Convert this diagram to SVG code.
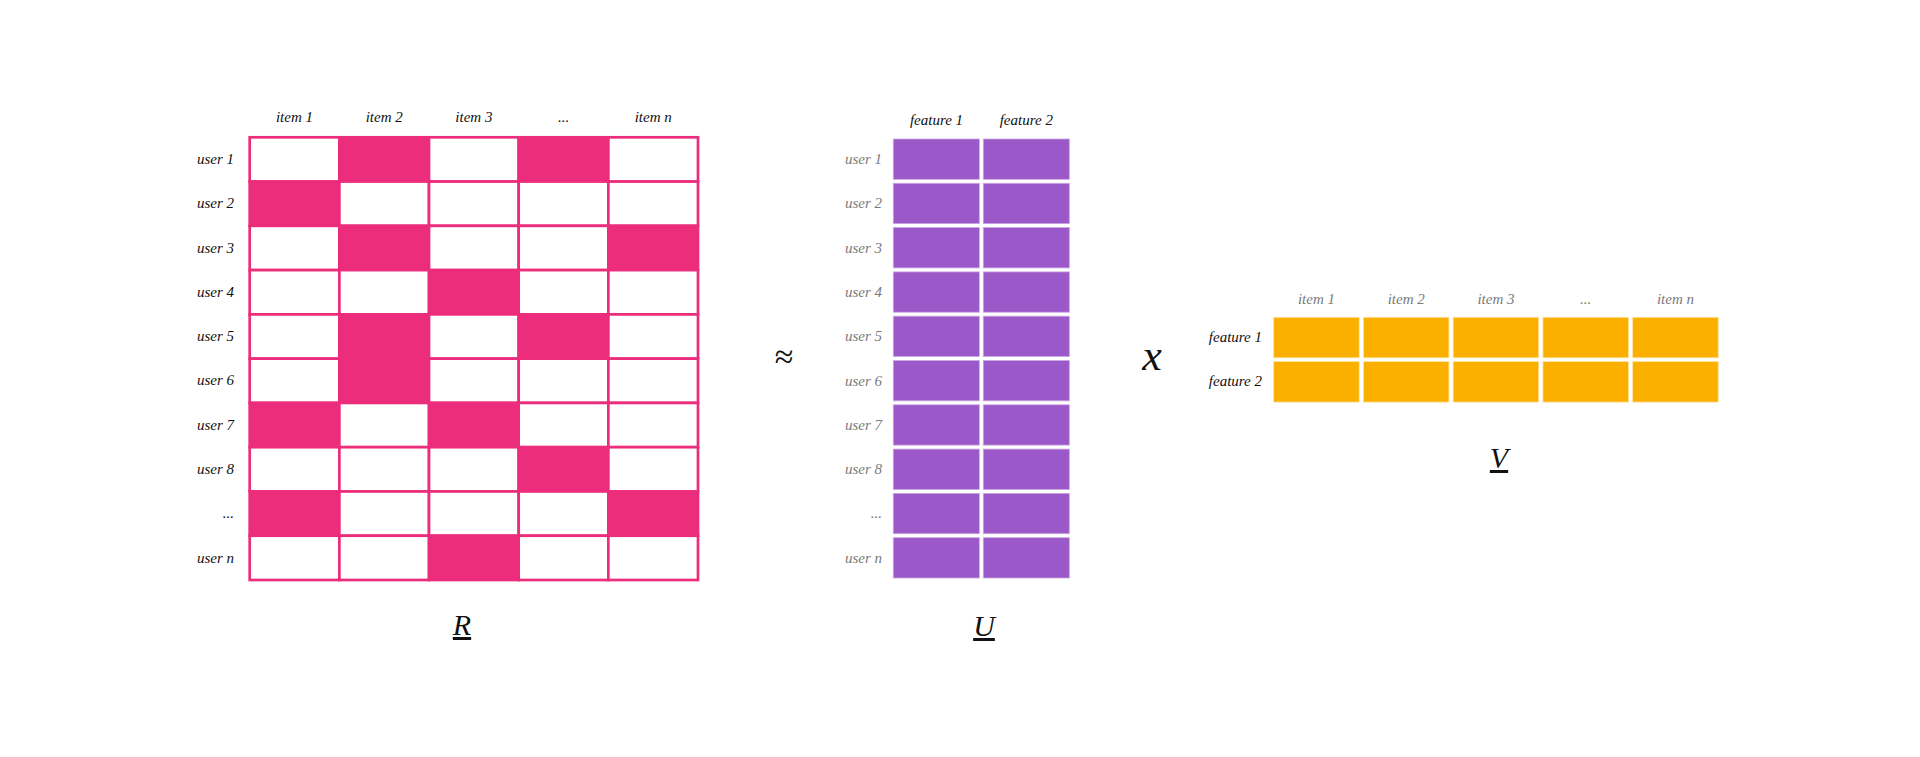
<svg xmlns="http://www.w3.org/2000/svg" width="1920" height="757" viewBox="0 0 1920 757">
<style>
text{font-family:"Liberation Serif","DejaVu Serif",serif;font-style:italic}
.lb{font-size:15px;fill:#111}
.lg{font-size:15px;fill:#7a7a7a}
.r{text-anchor:end}
.c{text-anchor:middle}
.big{font-size:30px;fill:#111;text-anchor:middle;text-decoration:underline}
.rw{fill:#fff;stroke:#EC2D7B;stroke-width:2.7}
.rp{fill:#EC2D7B;stroke:#EC2D7B;stroke-width:2.7}
.u{fill:#9A58C9;stroke:#c9a6e2;stroke-width:0.8}
.v{fill:#FBB000;stroke:#fde2a0;stroke-width:0.8}
</style>
<rect width="1920" height="757" fill="#fff"/>

<g id="R">
<g id="R-cells">
<rect class="rw" x="249.7" y="137.3" width="89.66" height="44.27"/><rect class="rp" x="339.36" y="137.3" width="89.66" height="44.27"/><rect class="rw" x="429.02" y="137.3" width="89.66" height="44.27"/><rect class="rp" x="518.68" y="137.3" width="89.66" height="44.27"/><rect class="rw" x="608.34" y="137.3" width="89.66" height="44.27"/>
<rect class="rp" x="249.7" y="181.57" width="89.66" height="44.27"/><rect class="rw" x="339.36" y="181.57" width="89.66" height="44.27"/><rect class="rw" x="429.02" y="181.57" width="89.66" height="44.27"/><rect class="rw" x="518.68" y="181.57" width="89.66" height="44.27"/><rect class="rw" x="608.34" y="181.57" width="89.66" height="44.27"/>
<rect class="rw" x="249.7" y="225.84" width="89.66" height="44.27"/><rect class="rp" x="339.36" y="225.84" width="89.66" height="44.27"/><rect class="rw" x="429.02" y="225.84" width="89.66" height="44.27"/><rect class="rw" x="518.68" y="225.84" width="89.66" height="44.27"/><rect class="rp" x="608.34" y="225.84" width="89.66" height="44.27"/>
<rect class="rw" x="249.7" y="270.11" width="89.66" height="44.27"/><rect class="rw" x="339.36" y="270.11" width="89.66" height="44.27"/><rect class="rp" x="429.02" y="270.11" width="89.66" height="44.27"/><rect class="rw" x="518.68" y="270.11" width="89.66" height="44.27"/><rect class="rw" x="608.34" y="270.11" width="89.66" height="44.27"/>
<rect class="rw" x="249.7" y="314.38" width="89.66" height="44.27"/><rect class="rp" x="339.36" y="314.38" width="89.66" height="44.27"/><rect class="rw" x="429.02" y="314.38" width="89.66" height="44.27"/><rect class="rp" x="518.68" y="314.38" width="89.66" height="44.27"/><rect class="rw" x="608.34" y="314.38" width="89.66" height="44.27"/>
<rect class="rw" x="249.7" y="358.65" width="89.66" height="44.27"/><rect class="rp" x="339.36" y="358.65" width="89.66" height="44.27"/><rect class="rw" x="429.02" y="358.65" width="89.66" height="44.27"/><rect class="rw" x="518.68" y="358.65" width="89.66" height="44.27"/><rect class="rw" x="608.34" y="358.65" width="89.66" height="44.27"/>
<rect class="rp" x="249.7" y="402.92" width="89.66" height="44.27"/><rect class="rw" x="339.36" y="402.92" width="89.66" height="44.27"/><rect class="rp" x="429.02" y="402.92" width="89.66" height="44.27"/><rect class="rw" x="518.68" y="402.92" width="89.66" height="44.27"/><rect class="rw" x="608.34" y="402.92" width="89.66" height="44.27"/>
<rect class="rw" x="249.7" y="447.19" width="89.66" height="44.27"/><rect class="rw" x="339.36" y="447.19" width="89.66" height="44.27"/><rect class="rw" x="429.02" y="447.19" width="89.66" height="44.27"/><rect class="rp" x="518.68" y="447.19" width="89.66" height="44.27"/><rect class="rw" x="608.34" y="447.19" width="89.66" height="44.27"/>
<rect class="rp" x="249.7" y="491.46" width="89.66" height="44.27"/><rect class="rw" x="339.36" y="491.46" width="89.66" height="44.27"/><rect class="rw" x="429.02" y="491.46" width="89.66" height="44.27"/><rect class="rw" x="518.68" y="491.46" width="89.66" height="44.27"/><rect class="rp" x="608.34" y="491.46" width="89.66" height="44.27"/>
<rect class="rw" x="249.7" y="535.73" width="89.66" height="44.27"/><rect class="rw" x="339.36" y="535.73" width="89.66" height="44.27"/><rect class="rp" x="429.02" y="535.73" width="89.66" height="44.27"/><rect class="rw" x="518.68" y="535.73" width="89.66" height="44.27"/><rect class="rw" x="608.34" y="535.73" width="89.66" height="44.27"/>
</g>
<g id="R-cols">
<text class="lb c" x="294.5" y="122">item 1</text>
<text class="lb c" x="384.2" y="122">item 2</text>
<text class="lb c" x="473.9" y="122">item 3</text>
<text class="lb c" x="563.5" y="122">...</text>
<text class="lb c" x="653.2" y="122">item n</text>
</g>
<g id="R-rows">
<text class="lb r" x="234" y="164">user 1</text>
<text class="lb r" x="234" y="208.3">user 2</text>
<text class="lb r" x="234" y="252.5">user 3</text>
<text class="lb r" x="234" y="296.8">user 4</text>
<text class="lb r" x="234" y="341.1">user 5</text>
<text class="lb r" x="234" y="385.4">user 6</text>
<text class="lb r" x="234" y="429.6">user 7</text>
<text class="lb r" x="234" y="473.9">user 8</text>
<text class="lb r" x="234" y="518.2">...</text>
<text class="lb r" x="234" y="562.5">user n</text>
</g>
<text id="R-label" class="big" x="462" y="635">R</text>
</g>

<g id="approx"><text x="784" y="368" font-size="34" fill="#111" text-anchor="middle" style="font-style:normal">≈</text></g>

<g id="U">
<g id="U-cells">
<rect class="u" x="893.3" y="139" width="86" height="40.3"/><rect class="u" x="983.3" y="139" width="86" height="40.3"/>
<rect class="u" x="893.3" y="183.3" width="86" height="40.3"/><rect class="u" x="983.3" y="183.3" width="86" height="40.3"/>
<rect class="u" x="893.3" y="227.6" width="86" height="40.3"/><rect class="u" x="983.3" y="227.6" width="86" height="40.3"/>
<rect class="u" x="893.3" y="271.9" width="86" height="40.3"/><rect class="u" x="983.3" y="271.9" width="86" height="40.3"/>
<rect class="u" x="893.3" y="316.2" width="86" height="40.3"/><rect class="u" x="983.3" y="316.2" width="86" height="40.3"/>
<rect class="u" x="893.3" y="360.5" width="86" height="40.3"/><rect class="u" x="983.3" y="360.5" width="86" height="40.3"/>
<rect class="u" x="893.3" y="404.8" width="86" height="40.3"/><rect class="u" x="983.3" y="404.8" width="86" height="40.3"/>
<rect class="u" x="893.3" y="449.1" width="86" height="40.3"/><rect class="u" x="983.3" y="449.1" width="86" height="40.3"/>
<rect class="u" x="893.3" y="493.4" width="86" height="40.3"/><rect class="u" x="983.3" y="493.4" width="86" height="40.3"/>
<rect class="u" x="893.3" y="537.7" width="86" height="40.3"/><rect class="u" x="983.3" y="537.7" width="86" height="40.3"/>
</g>
<g id="U-cols">
<text class="lb c" x="936.5" y="125">feature 1</text>
<text class="lb c" x="1026.3" y="125">feature 2</text>
</g>
<g id="U-rows">
<text class="lg r" x="882" y="164">user 1</text>
<text class="lg r" x="882" y="208.3">user 2</text>
<text class="lg r" x="882" y="252.6">user 3</text>
<text class="lg r" x="882" y="296.9">user 4</text>
<text class="lg r" x="882" y="341.2">user 5</text>
<text class="lg r" x="882" y="385.5">user 6</text>
<text class="lg r" x="882" y="429.8">user 7</text>
<text class="lg r" x="882" y="474.1">user 8</text>
<text class="lg r" x="882" y="518.4">...</text>
<text class="lg r" x="882" y="562.7">user n</text>
</g>
<text id="U-label" class="big" x="984" y="636">U</text>
</g>

<g id="times"><text x="1152" y="370" font-size="44" fill="#111" text-anchor="middle">x</text></g>

<g id="V">
<g id="V-cells">
<rect class="v" x="1273.7" y="317.3" width="85.5" height="40.5"/><rect class="v" x="1363.45" y="317.3" width="85.5" height="40.5"/><rect class="v" x="1453.2" y="317.3" width="85.5" height="40.5"/><rect class="v" x="1542.95" y="317.3" width="85.5" height="40.5"/><rect class="v" x="1632.7" y="317.3" width="85.5" height="40.5"/>
<rect class="v" x="1273.7" y="361.6" width="85.5" height="40.5"/><rect class="v" x="1363.45" y="361.6" width="85.5" height="40.5"/><rect class="v" x="1453.2" y="361.6" width="85.5" height="40.5"/><rect class="v" x="1542.95" y="361.6" width="85.5" height="40.5"/><rect class="v" x="1632.7" y="361.6" width="85.5" height="40.5"/>
</g>
<g id="V-cols">
<text class="lg c" x="1316.5" y="304">item 1</text>
<text class="lg c" x="1406.2" y="304">item 2</text>
<text class="lg c" x="1496" y="304">item 3</text>
<text class="lg c" x="1585.7" y="304">...</text>
<text class="lg c" x="1675.5" y="304">item n</text>
</g>
<g id="V-rows">
<text class="lb r" x="1262" y="342">feature 1</text>
<text class="lb r" x="1262" y="386.3">feature 2</text>
</g>
<text id="V-label" class="big" x="1499" y="468">V</text>
</g>
</svg>
